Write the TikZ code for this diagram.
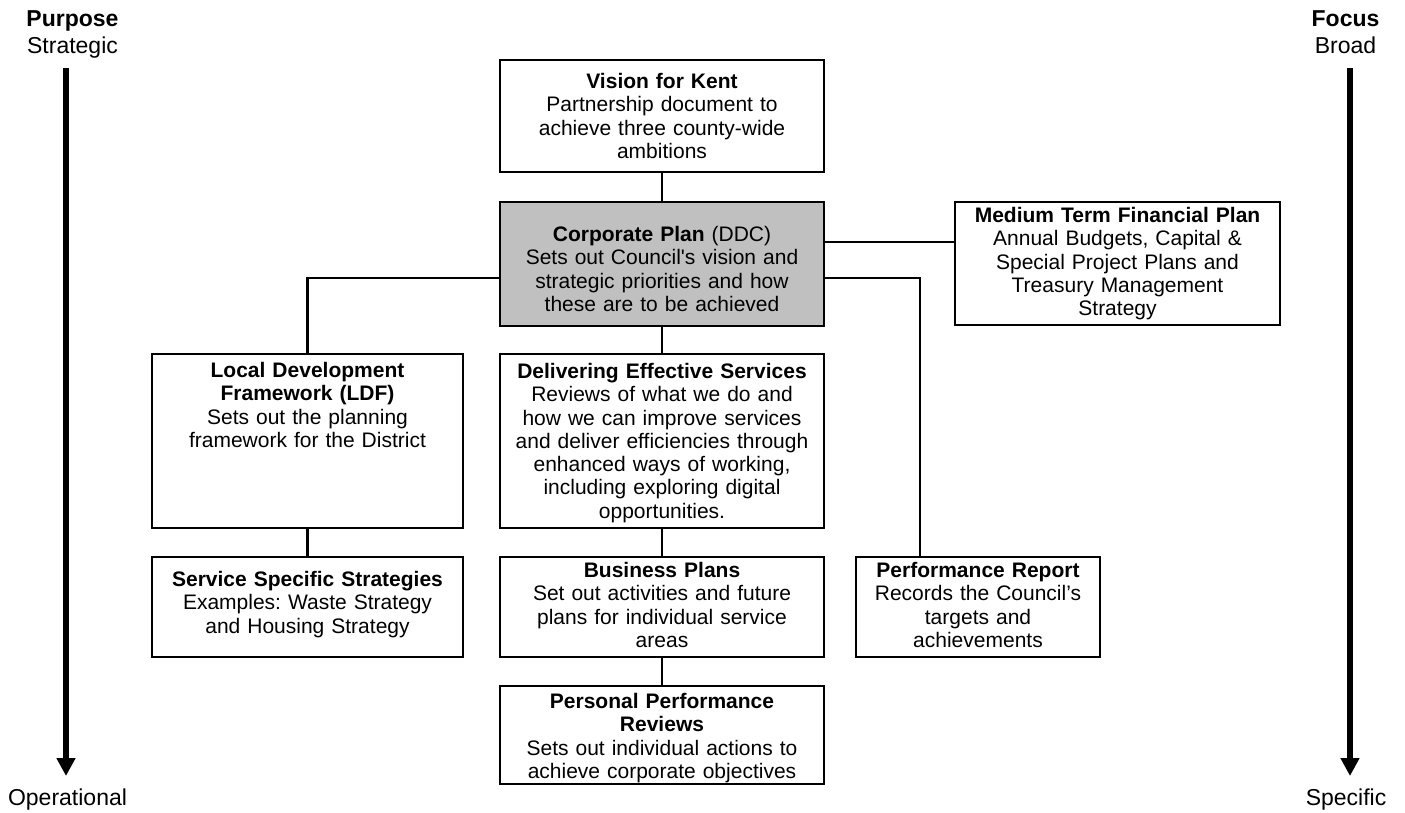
\documentclass[tikz,border=0pt]{standalone}
\usepackage{fontspec}
\setmainfont{Liberation Sans}
\usetikzlibrary{arrows.meta}
\definecolor{corpgray}{RGB}{192,192,192}
\begin{document}
\frenchspacing
\begin{tikzpicture}[x=1pt,y=-1pt,
  box/.style={draw=black, line width=2.4pt, inner sep=0pt, outer sep=0pt},
  txt/.style={inner sep=0pt, align=center, font=\fontsize{21}{23.3}\selectfont, anchor=north},
  conn/.style={draw=black, line width=2.2pt},
  side/.style={inner sep=0pt, font=\fontsize{23}{26}\selectfont, anchor=base},
  bigarrow/.style={draw=black, line width=6pt, -{Triangle[width=18pt,length=18pt]}}]
\useasboundingbox (0,0) rectangle (1405,813);

% boxes
\node[box, minimum width=324pt, minimum height=112pt] (vis) at (662,116) {};
\node[box, fill=corpgray, minimum width=324pt, minimum height=124pt] (corp) at (662,264) {};
\node[box, minimum width=325pt, minimum height=123pt] (mtfp) at (1117.5,263.5) {};
\node[box, minimum width=311pt, minimum height=174pt] (ldf) at (307.5,441) {};
\node[box, minimum width=324pt, minimum height=174pt] (des) at (662,441) {};
\node[box, minimum width=311pt, minimum height=100pt] (sss) at (307.5,607) {};
\node[box, minimum width=324pt, minimum height=100pt] (bp) at (662,607) {};
\node[box, minimum width=244pt, minimum height=100pt] (pr) at (978,607) {};
\node[box, minimum width=324pt, minimum height=98pt] (ppr) at (662,735) {};

% texts
\node[txt, text width=316pt] (vist) at (662,73) {\textbf{Vision for Kent}\\Partnership document to\\achieve three county-wide\\ambitions};
\node[txt, text width=316pt] (corpt) at (662,226) {\textbf{Corporate Plan} (DDC)\\Sets out Council\textquotesingle s vision and\\strategic priorities and how\\these are to be achieved};
\node[txt, text width=317pt] (mtfpt) at (1117.5,207) {\textbf{Medium Term Financial Plan}\\Annual Budgets, Capital \&\\Special Project Plans and\\Treasury Management\\Strategy};
\node[txt, text width=303pt] (ldft) at (307.5,362) {\textbf{Local Development}\\\textbf{Framework (LDF)}\\Sets out the planning\\framework for the District};
\node[txt, text width=318pt] (dest) at (662,363) {\textbf{Delivering Effective Services}\\Reviews of what we do and\\how we can improve services\\and deliver efficiencies through\\enhanced ways of working,\\including exploring digital\\opportunities.};
\node[txt, text width=303pt] (ssst) at (307.5,571) {\textbf{Service Specific Strategies}\\Examples: Waste Strategy\\and Housing Strategy};
\node[txt, text width=316pt] (bpt) at (662,562) {\textbf{Business Plans}\\Set out activities and future\\plans for individual service\\areas};
\node[txt, text width=238pt] (prt) at (978,562) {\textbf{Performance Report}\\Records the Council’s\\targets and\\achievements};
\node[txt, text width=316pt] (pprt) at (662,693) {\textbf{Personal Performance}\\\textbf{Reviews}\\Sets out individual actions to\\achieve corporate objectives};

% connectors
\draw[conn] (vis.south) -- (corp.north);
\draw[conn] ([yshift=-40pt]corp.north east) coordinate (c1) -- (c1 -| mtfp.west);
\draw[conn] ([yshift=-76pt]corp.north west) coordinate (c2) -| (ldf.north);
\coordinate (prj) at ([xshift=64pt]pr.north west);
\draw[conn] ([yshift=-76pt]corp.north east) coordinate (c3) -| (prj);
\draw[conn] (corp.south) -- (des.north);
\draw[conn] (ldf.south) -- (sss.north);
\draw[conn] (des.south) -- (bp.north);
\draw[conn] (bp.south) -- (ppr.north);

% side labels and arrows
\node[side] (purp) at (72.5,26.7) {\textbf{Purpose}};
\node[side] (strat) at (72.5,53.3) {Strategic};
\node[side] (oper) at (67.5,805.7) {Operational};
\node[side] (foc) at (1345.5,26.7) {\textbf{Focus}};
\node[side] (broad) at (1345.5,53.3) {Broad};
\node[side] (spec) at (1346,805.7) {Specific};
\coordinate (la1) at (66,68);
\coordinate (la2) at (66,776);
\coordinate (ra1) at (1350,68);
\coordinate (ra2) at (1350,776);
\draw[bigarrow] (la1) -- (la2);
\draw[bigarrow] (ra1) -- (ra2);
\end{tikzpicture}
\end{document}
